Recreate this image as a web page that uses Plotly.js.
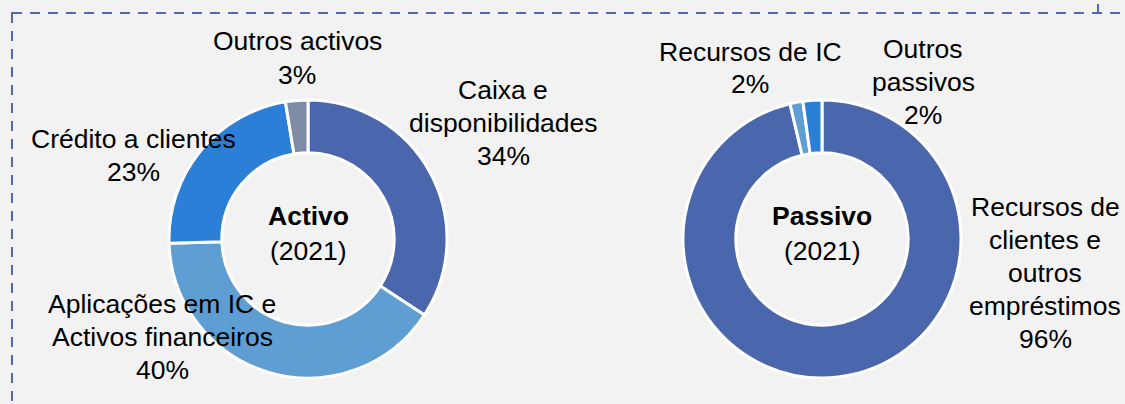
<!DOCTYPE html>
<html>
<head>
<meta charset="utf-8">
<script src="https://cdn.plot.ly/plotly-3.0.1.min.js"></script>
<style>
html,body{margin:0;padding:0;background:#f2f2f2;}
#chart{width:1125px;height:404px;}
</style>
</head>
<body>
<div id="chart"></div>
<script>
// ---- Data ----
const activoLabels = ["Caixa e disponibilidades", "Aplicações em IC e Activos financeiros", "Crédito a clientes", "Outros activos"];
const activoValues = [34.2, 40.3, 22.9, 2.6];
const activoColors = ["#4a66ac", "#5f9ed3", "#2b7fd6", "#7f8ca6"];

const passivoLabels = ["Recursos de clientes e outros empréstimos", "Recursos de IC", "Outros passivos"];
const passivoValues = [96.3, 1.5, 2.2];
const passivoColors = ["#4a66ac", "#5f9ed3", "#2b7fd6"];

const centerTitles = ["Activo", "Passivo"];
const centerYear = "(2021)";

// display text for labels (line breaks as in reference)
const activoLabelLines = [["Caixa e", "disponibilidades"], ["Aplicações em IC e", "Activos financeiros"], ["Crédito a clientes"], ["Outros activos"]];
const passivoLabelLines = [["Recursos de", "clientes e", "outros", "empréstimos"], ["Recursos de IC"], ["Outros", "passivos"]];

// ---- Layout helpers ----
const W = 1125, H = 404;
const px = x => x / W;
const py = y => 1 - y / H;
const FONT = "Liberation Sans, Arial, Helvetica, sans-serif";
const FS = 26.5;
const LH = 33;

function pct(values, i) {
  const s = values.reduce((a, b) => a + b, 0);
  return Math.round(values[i] / s * 100) + "%";
}

function domainFor(cx, cy, r) {
  return { x: [px(cx - r), px(cx + r)], y: [py(cy + r), py(cy - r)] };
}

const R = 139;
const trace1 = {
  type: "pie", labels: activoLabels, values: activoValues, sort: false,
  direction: "clockwise", rotation: 0, hole: 0.62,
  marker: { colors: activoColors, line: { color: "#ffffff", width: 3 } },
  textinfo: "none", hoverinfo: "label+percent",
  domain: domainFor(308, 239, R), showlegend: false
};
const trace2 = {
  type: "pie", labels: passivoLabels, values: passivoValues, sort: false,
  direction: "clockwise", rotation: 0, hole: 0.62,
  marker: { colors: passivoColors, line: { color: "#ffffff", width: 3 } },
  textinfo: "none", hoverinfo: "label+percent",
  domain: domainFor(822, 239, R), showlegend: false
};

// label positions (pixel centres of text blocks)
const activoLabelPos = [[503, 123], [162, 337], [133, 155], [297, 58]];
const passivoLabelPos = [[1045, 273], [750, 68], [923, 82]];

const annotations = [];
function addText(t, x, y) {
  annotations.push({
    text: t, x: px(x), y: py(y), xref: "paper", yref: "paper",
    xanchor: "center", yanchor: "middle", showarrow: false, align: "center",
    font: { family: FONT, size: FS, color: "#000000" }
  });
}
function addLabels(lines, values, pos) {
  lines.forEach((l, i) => {
    const all = l.concat([pct(values, i)]);
    const n = all.length;
    all.forEach((s, k) => addText(s, pos[i][0], pos[i][1] + (k - (n - 1) / 2) * LH));
  });
}
addLabels(activoLabelLines, activoValues, activoLabelPos);
addLabels(passivoLabelLines, passivoValues, passivoLabelPos);

[[308, centerTitles[0]], [822, centerTitles[1]]].forEach(([cx, t]) => {
  addText("<b>" + t + "</b>", cx, 216);
  addText(centerYear, cx, 251);
});

const layout = {
  width: W, height: H,
  margin: { l: 0, r: 0, t: 0, b: 0 },
  paper_bgcolor: "#f2f2f2", plot_bgcolor: "#f2f2f2",
  showlegend: false,
  annotations: annotations,
  shapes: [
    { type: "rect", xref: "paper", yref: "paper", x0: px(12), y0: py(13), x1: px(1140), y1: py(420),
      line: { color: "#4f6bb0", width: 2, dash: "10px,8px" }, fillcolor: "rgba(0,0,0,0)" },
    { type: "line", xref: "paper", yref: "paper", x0: px(1098), y0: py(4), x1: px(1098), y1: py(13),
      line: { color: "#4f6bb0", width: 2 } }
  ]
};

Plotly.newPlot("chart", [trace1, trace2], layout, { displayModeBar: false, staticPlot: true });
</script>
</body>
</html>
